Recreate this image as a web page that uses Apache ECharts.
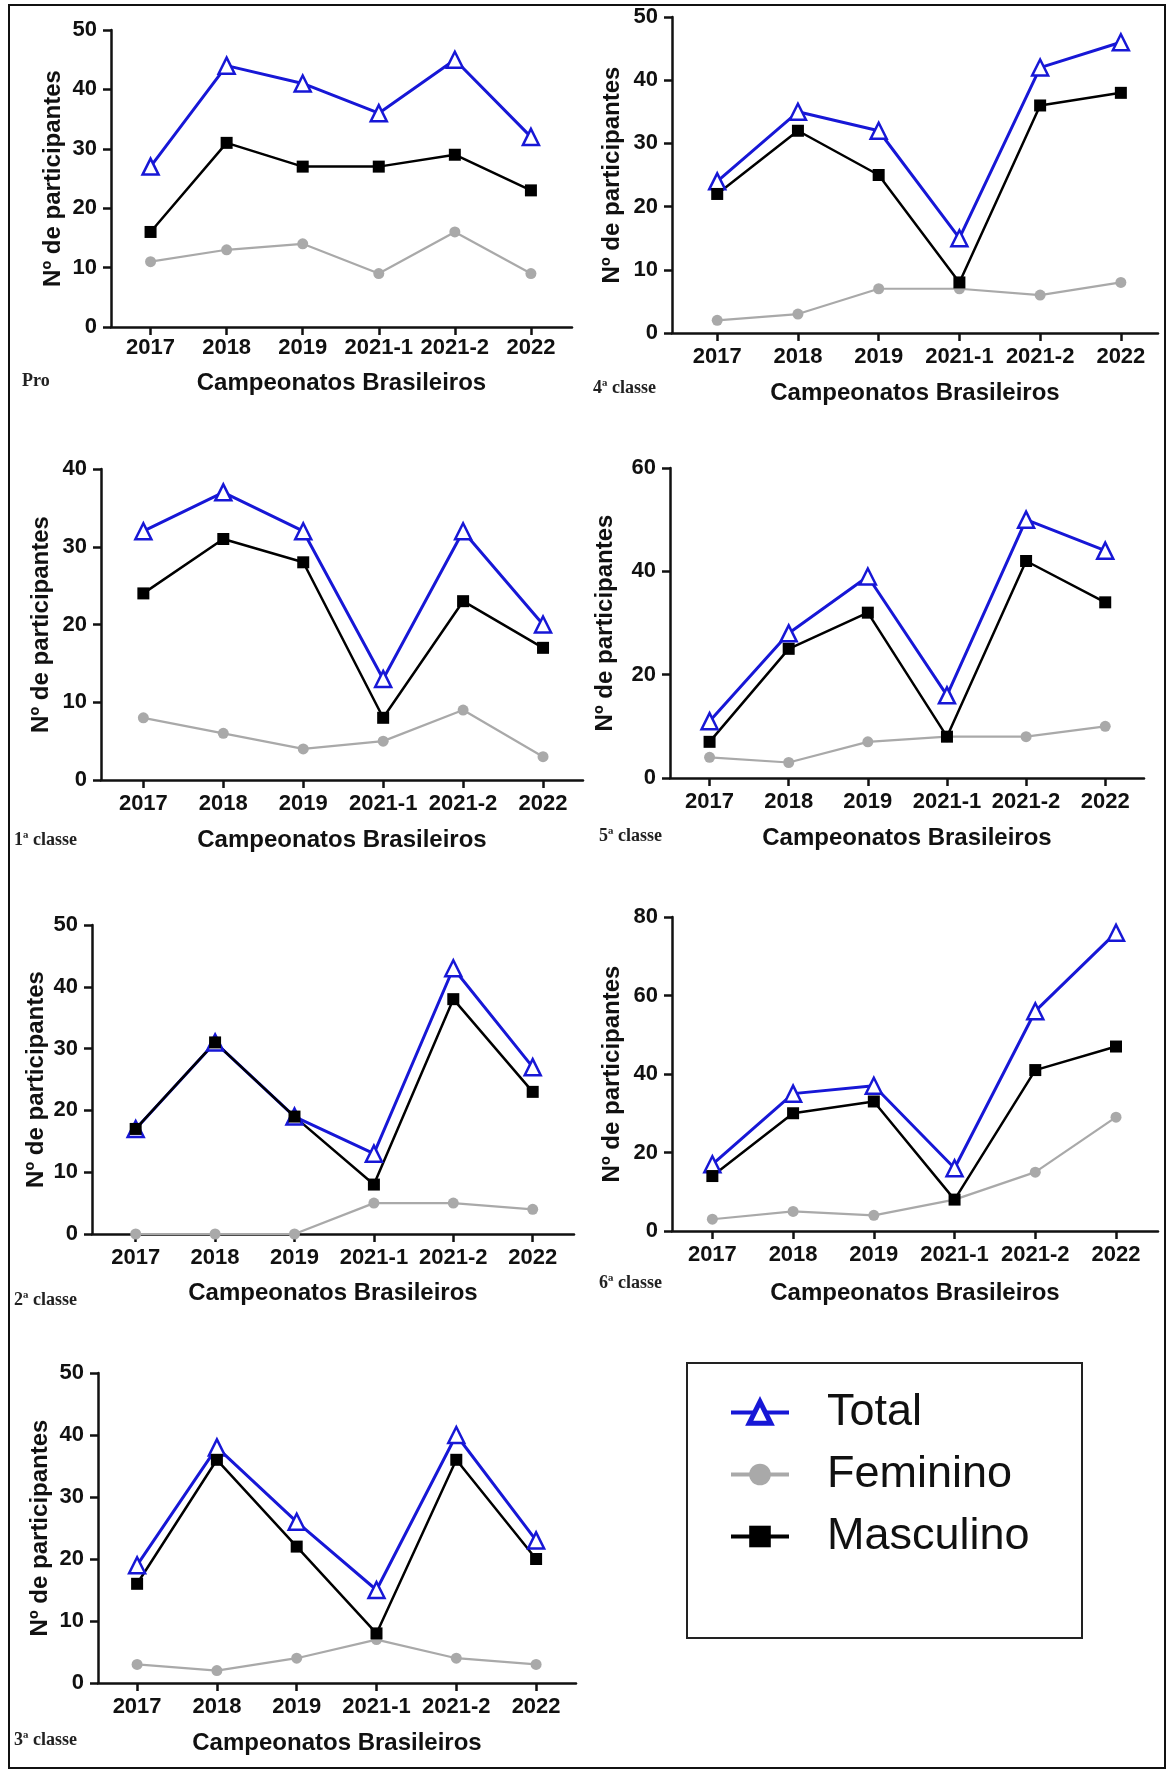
<!DOCTYPE html>
<html>
<head>
<meta charset="utf-8">
<script src="https://cdn.jsdelivr.net/npm/echarts@6/dist/echarts.min.js"></script>
<style>
html,body{margin:0;padding:0;background:#fff;}
#chart{width:1170px;height:1773px;}
</style>
</head>
<body>
<div id="chart"></div>
<script>
// ---- data ----
const categories = ['2017', '2018', '2019', '2021-1', '2021-2', '2022'];
const panelLabels = ['Pro', '4ª classe', '1ª classe', '5ª classe', '2ª classe', '6ª classe', '3ª classe'];
const yMax  = [50, 50, 40, 60, 50, 80, 50];
const yStep = [10, 10, 10, 20, 10, 20, 10];

const proTotal = [27, 44, 41, 36, 45, 32];
const proFem   = [11, 13, 14, 9, 16, 9];
const proMasc  = [16, 31, 27, 27, 29, 23];

const c4Total = [24, 35, 32, 15, 42, 46];
const c4Fem   = [2, 3, 7, 7, 6, 8];
const c4Masc  = [22, 32, 25, 8, 36, 38];

const c1Total = [32, 37, 32, 13, 32, 20];
const c1Fem   = [8, 6, 4, 5, 9, 3];
const c1Masc  = [24, 31, 28, 8, 23, 17];

const c5Total = [11, 28, 39, 16, 50, 44];
const c5Fem   = [4, 3, 7, 8, 8, 10];
const c5Masc  = [7, 25, 32, 8, 42, 34];

const c2Total = [17, 31, 19, 13, 43, 27];
const c2Fem   = [0, 0, 0, 5, 5, 4];
const c2Masc  = [17, 31, 19, 8, 38, 23];

const c6Total = [17, 35, 37, 16, 56, 76];
const c6Fem   = [3, 5, 4, 8, 15, 29];
const c6Masc  = [14, 30, 33, 8, 41, 47];

const c3Total = [19, 38, 26, 15, 40, 23];
const c3Fem   = [3, 2, 4, 7, 4, 3];
const c3Masc  = [16, 36, 22, 8, 36, 20];

const panels = [
  [proTotal, proFem, proMasc],
  [c4Total, c4Fem, c4Masc],
  [c1Total, c1Fem, c1Masc],
  [c5Total, c5Fem, c5Masc],
  [c2Total, c2Fem, c2Masc],
  [c6Total, c6Fem, c6Masc],
  [c3Total, c3Fem, c3Masc]
];

// ---- layout (pixels) ----
const layout = [
  {l:111, r:572,  t:30,   b:327,  xmin:-0.52, xmax:5.54, yGap:46, xGap:44, lm:10, lx:22,  ly:383},
  {l:672, r:1158, t:17,   b:333,  xmin:-0.56, xmax:5.46, yGap:48, xGap:48, lm:13, lx:593, ly:390},
  {l:101, r:583,  t:469,  b:780,  xmin:-0.53, xmax:5.5,  yGap:48, xGap:48, lm:13, lx:14,  ly:842},
  {l:670, r:1144, t:468,  b:778,  xmin:-0.5,  xmax:5.49, yGap:53, xGap:48, lm:13, lx:599, ly:838},
  {l:92,  r:574,  t:925,  b:1234, xmin:-0.55, xmax:5.52, yGap:44, xGap:47, lm:13, lx:14,  ly:1302},
  {l:672, r:1158, t:917,  b:1231, xmin:-0.5,  xmax:5.52, yGap:48, xGap:50, lm:13, lx:599, ly:1285},
  {l:98,  r:576,  t:1373, b:1683, xmin:-0.49, xmax:5.5,  yGap:46, xGap:48, lm:13, lx:14,  ly:1742}
];

const FONT = '"Liberation Sans", Arial, Helvetica, sans-serif';
const BLUE = '#1717d6';
const GRAY = '#a9a9a9';

const grids = [], xAxes = [], yAxes = [], series = [], graphics = [];
const idx = categories.map((c, i) => i);

layout.forEach((p, i) => {
  grids.push({left: p.l, top: p.t, width: p.r - p.l, height: p.b - p.t, containLabel: false});
  xAxes.push({
    type: 'value', gridIndex: i, min: p.xmin, max: p.xmax,
    name: 'Campeonatos Brasileiros', nameLocation: 'middle', nameGap: p.xGap,
    nameTextStyle: {fontFamily: FONT, fontWeight: 'bold', fontSize: 24, color: '#111'},
    axisLine: {show: true, onZero: false, lineStyle: {color: '#111', width: 2.5}},
    axisTick: {show: true, length: 8, lineStyle: {color: '#111', width: 2.5}, customValues: idx},
    axisLabel: {show: true, margin: p.lm, fontFamily: FONT, fontWeight: 'bold', fontSize: 22, color: '#111',
      customValues: idx, formatter: v => categories[Math.round(v)] || ''},
    splitLine: {show: false}
  });
  yAxes.push({
    type: 'value', gridIndex: i, min: 0, max: yMax[i], interval: yStep[i],
    name: 'Nº de participantes', nameLocation: 'middle', nameGap: p.yGap,
    nameTextStyle: {fontFamily: FONT, fontWeight: 'bold', fontSize: 24, color: '#111'},
    axisLine: {show: true, onZero: false, lineStyle: {color: '#111', width: 2.5}},
    axisTick: {show: true, length: 8, lineStyle: {color: '#111', width: 2.5}},
    axisLabel: {margin: 14, fontFamily: FONT, fontWeight: 'bold', fontSize: 22, color: '#111'},
    splitLine: {show: false}
  });
  const [tot, fem, masc] = panels[i];
  series.push({
    name: 'Feminino', type: 'line', xAxisIndex: i, yAxisIndex: i,
    data: fem.map((v, j) => [j, v]),
    symbol: 'circle', symbolSize: 11,
    itemStyle: {color: GRAY},
    lineStyle: {color: GRAY, width: 2.2}
  });
  series.push({
    name: 'Total', type: 'line', xAxisIndex: i, yAxisIndex: i,
    data: tot.map((v, j) => [j, v]),
    symbol: 'triangle', symbolSize: 16,
    itemStyle: {color: '#fff', borderColor: BLUE, borderWidth: 2.5},
    lineStyle: {color: BLUE, width: 3}
  });
  series.push({
    name: 'Masculino', type: 'line', xAxisIndex: i, yAxisIndex: i,
    data: masc.map((v, j) => [j, v]),
    symbol: 'rect', symbolSize: 12,
    itemStyle: {color: '#000'},
    lineStyle: {color: '#000', width: 2.5}
  });
  graphics.push({
    type: 'text', left: p.lx, top: p.ly - 11,
    style: {text: panelLabels[i], font: 'bold 18px "Liberation Serif", "Times New Roman", serif', fill: '#222'}
  });
});

// outer frame
graphics.push({type: 'rect', shape: {x: 9, y: 5, width: 1156, height: 1763},
  style: {fill: 'none', stroke: '#111', lineWidth: 2}, z: 10});
// legend box
graphics.push({type: 'rect', shape: {x: 687, y: 1363, width: 395, height: 275},
  style: {fill: 'none', stroke: '#222', lineWidth: 2}, z: 10});

const option = {
  animation: false,
  backgroundColor: '#fff',
  grid: grids,
  xAxis: xAxes,
  yAxis: yAxes,
  series: series,
  legend: {
    data: [
      {name: 'Total', itemStyle: {color: '#fff', borderColor: BLUE, borderWidth: 5}, lineStyle: {width: 4}},
      {name: 'Feminino', lineStyle: {width: 4}},
      {name: 'Masculino', lineStyle: {width: 4}}
    ],
    orient: 'vertical', left: 729, top: 1390, padding: 0,
    itemWidth: 58, itemHeight: 27, itemGap: 17,
    textStyle: {fontFamily: FONT, fontSize: 45, color: '#111', padding: [0, 0, 0, 33]},
    selectedMode: false
  },
  graphic: graphics
};

const chart = echarts.init(document.getElementById('chart'), null, {renderer: 'canvas'});
chart.setOption(option);
</script>
</body>
</html>
